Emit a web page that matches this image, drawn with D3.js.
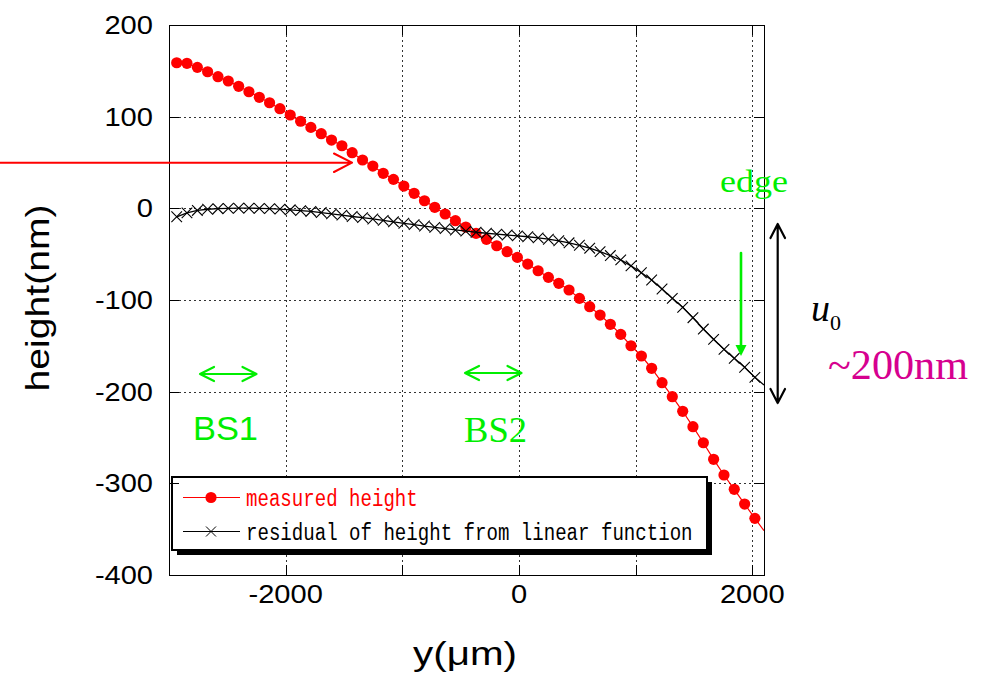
<!DOCTYPE html>
<html>
<head>
<meta charset="utf-8">
<script src="https://cdn.jsdelivr.net/npm/d3@7"></script>
<style>
  html, body { margin: 0; padding: 0; background: #fff; }
  svg { display: block; }
</style>
</head>
<body>
<svg id="chart" width="988" height="676"></svg>
<script>
// Position along the sample, y (µm)
const yPos = [
  -2934, -2846, -2757, -2669, -2580, -2492, -2403, -2315, -2226, -2138,
  -2049, -1961, -1872, -1784, -1695, -1607, -1518, -1430, -1341, -1253,
  -1164, -1076, -987, -899, -810, -722, -633, -545, -456, -368,
  -279, -191, -102, -14, 75, 164, 252, 341, 429, 518,
  606, 695, 783, 872, 960, 1049, 1137, 1226, 1314, 1403,
  1491, 1580, 1668, 1757, 1845, 1934, 2022
];

// Measured height (nm)
const measuredHeight = [
  158.8, 158.2, 153.8, 149.0, 143.6, 138.9, 133.1, 127.2, 121.1, 115.2,
  108.7, 101.8, 95.0, 88.3, 81.4, 74.5, 68.3, 60.7, 52.7, 46.1,
  38.2, 31.6, 24.3, 16.4, 8.3, 1.1, -6.2, -13.5, -20.4, -27.3,
  -33.8, -40.8, -47.3, -53.5, -60.8, -68.1, -75.3, -81.8, -89.1, -98.2,
  -107.3, -116.4, -126.5, -137.5, -149.9, -161.1, -174.5, -190.2, -205.5, -221.4,
  -238.2, -255.7, -273.8, -290.9, -306.5, -322.6, -338.2
];

// Residual of height from a linear function (nm)
const residualHeight = [
  -9.2, -5.0, -2.3, -1.0, -0.4, 0.0, 0.2, 0.2, 0.0, -0.3,
  -0.9, -1.6, -2.5, -3.4, -4.6, -6.0, -7.4, -8.9, -10.2, -11.6,
  -13.2, -14.7, -16.3, -17.8, -19.3, -20.8, -22.2, -23.6, -24.9, -26.1,
  -27.2, -28.2, -29.1, -30.0, -31.0, -32.2, -33.7, -35.4, -37.6, -40.3,
  -43.5, -47.2, -51.5, -56.2, -62.8, -70.3, -78.2, -88.0, -98.2, -108.0,
  -119.3, -131.7, -142.9, -153.8, -163.6, -173.4, -184.4
];

// Where both curves run out at the right-hand edge of the plot
const edgeY = 2100;
const measuredAtEdge = -351.7;
const residualAtEdge = -192.8;

const xTicks = [-2000, -1000, 0, 1000, 2000];
const xTickLabels = ["-2000", "", "0", "", "2000"];
const yTicks = [-400, -300, -200, -100, 0, 100, 200];
const yTickLabels = ["-400", "-300", "-200", "-100", "0", "100", "200"];

const legendLabels = ["measured height", "residual of height from linear function"];

const svg = d3.select("#chart");
const SANS = "'Liberation Sans', Arial, Helvetica, sans-serif";
const SERIF = "'Liberation Serif', 'Times New Roman', serif";
const MONO = "'Liberation Mono', 'DejaVu Sans Mono', monospace";
const GREEN = "#00ee00";

const x = d3.scaleLinear().domain([-3000, 2100]).range([169, 764]);
const y = d3.scaleLinear().domain([-400, 200]).range([575, 25]);
const [x0, x1] = x.range();
const [y0, y1] = [y(200), y(-400)];

// Text drawn at a fixed width (glyphs stretched to fit)
function fitText(g, str, opts) {
  const t = g.append("text")
    .attr("x", opts.x).attr("y", opts.y)
    .attr("font-family", opts.family)
    .attr("font-size", opts.size)
    .attr("fill", opts.fill || "#000")
    .attr("text-anchor", opts.anchor || "start")
    .text(str);
  if (opts.style) t.attr("font-style", opts.style);
  if (opts.width) t.attr("textLength", opts.width).attr("lengthAdjust", "spacingAndGlyphs");
  if (opts.transform) t.attr("transform", opts.transform);
  return t;
}

// ---- grid ----
const grid = svg.append("g").attr("stroke", "#333").attr("stroke-width", 1)
  .attr("stroke-dasharray", "2,3").attr("fill", "none");
grid.selectAll("line.v").data(xTicks).join("line").attr("class", "v")
  .attr("x1", d => Math.round(x(d)) + 0.5).attr("x2", d => Math.round(x(d)) + 0.5)
  .attr("y1", y0).attr("y2", y1);
grid.selectAll("line.h").data(yTicks.filter(d => d > -400 && d < 200)).join("line").attr("class", "h")
  .attr("y1", d => Math.round(y(d)) + 0.5).attr("y2", d => Math.round(y(d)) + 0.5)
  .attr("x1", x0).attr("x2", x1);

// ---- series ----
const measuredPts = yPos.map((p, i) => [p, measuredHeight[i]]);
const residualPts = yPos.map((p, i) => [p, residualHeight[i]]);
const line = d3.line().x(d => x(d[0])).y(d => y(d[1]));

svg.append("path")
  .attr("d", line(measuredPts.concat([[edgeY, measuredAtEdge]])))
  .attr("fill", "none").attr("stroke", "#ff0000").attr("stroke-width", 1.2);
svg.append("g").selectAll("circle").data(measuredPts).join("circle")
  .attr("cx", d => x(d[0])).attr("cy", d => y(d[1])).attr("r", 5.6)
  .attr("fill", "#ff0000");

svg.append("path")
  .attr("d", line(residualPts.concat([[edgeY, residualAtEdge]])))
  .attr("fill", "none").attr("stroke", "#000").attr("stroke-width", 1.3);
const cs = 5.3;
svg.append("g").attr("stroke", "#000").attr("stroke-width", 1.1)
  .selectAll("path").data(residualPts).join("path")
  .attr("d", d => {
    const cx = x(d[0]), cy = y(d[1]);
    return `M${cx - cs},${cy - cs}L${cx + cs},${cy + cs}M${cx - cs},${cy + cs}L${cx + cs},${cy - cs}`;
  });

// ---- legend ----
const leg = svg.append("g");
const lx = 172, ly = 477, lw = 535, lh = 73;
leg.append("rect").attr("x", lx + 5).attr("y", ly + 5).attr("width", lw).attr("height", lh).attr("fill", "#000");
leg.append("rect").attr("x", lx).attr("y", ly).attr("width", lw).attr("height", lh)
  .attr("fill", "#fff").attr("stroke", "#000").attr("stroke-width", 2);
const rowY = [497.5, 531.5];
const legColors = ["#ff0000", "#000"];
legendLabels.forEach((lab, i) => {
  leg.append("line").attr("x1", 183).attr("x2", 240).attr("y1", rowY[i]).attr("y2", rowY[i])
    .attr("stroke", legColors[i]).attr("stroke-width", 1);
  if (i === 0) {
    leg.append("circle").attr("cx", 211).attr("cy", rowY[i]).attr("r", 5.6).attr("fill", "#ff0000");
  } else {
    leg.append("path").attr("stroke", "#000").attr("stroke-width", 1)
      .attr("d", `M206,${rowY[i] - 5}L216,${rowY[i] + 5}M206,${rowY[i] + 5}L216,${rowY[i] - 5}`);
  }
  fitText(leg, lab, { x: 246, y: rowY[i] + 8, size: 23, family: MONO, fill: legColors[i],
    width: lab.length * 11.45 });
});

// ---- frame and ticks (mirrored, pointing inward) ----
svg.append("rect").attr("x", x0 + 0.5).attr("y", y0 + 0.5)
  .attr("width", x1 - x0).attr("height", y1 - y0)
  .attr("fill", "none").attr("stroke", "#000").attr("stroke-width", 1);
const ticks = svg.append("g").attr("stroke", "#000").attr("stroke-width", 1);
const tl = 10;
xTicks.forEach(t => {
  const px = Math.round(x(t)) + 0.5;
  ticks.append("line").attr("x1", px).attr("x2", px).attr("y1", y1).attr("y2", y1 - tl);
  ticks.append("line").attr("x1", px).attr("x2", px).attr("y1", y0).attr("y2", y0 + tl);
});
yTicks.forEach(t => {
  const py = Math.round(y(t)) + 0.5;
  ticks.append("line").attr("y1", py).attr("y2", py).attr("x1", x0).attr("x2", x0 + tl);
  ticks.append("line").attr("y1", py).attr("y2", py).attr("x1", x1).attr("x2", x1 - tl);
});

// ---- tick labels ----
const labels = svg.append("g");
yTicks.forEach((t, i) => {
  const s = yTickLabels[i];
  fitText(labels, s, { x: 153, y: y(t) + 9, size: 25, family: SANS, anchor: "end",
    width: s.replace("-", "").length * 16.2 + (s.startsWith("-") ? 9.5 : 0) });
});
xTicks.forEach((t, i) => {
  const s = xTickLabels[i];
  if (!s) return;
  fitText(labels, s, { x: x(t), y: 603, size: 25, family: SANS, anchor: "middle",
    width: s.replace("-", "").length * 16.2 + (s.startsWith("-") ? 9.5 : 0) });
});

// ---- axis titles ----
fitText(svg, "y(\u03bcm)", { x: 465, y: 665, size: 33, family: SANS, anchor: "middle", width: 104 });
fitText(svg, "height(nm)", { x: 0, y: 0, size: 33, family: SANS, anchor: "middle", width: 187,
  transform: "translate(49,298) rotate(-90)" });

// ---- annotations ----
const ann = svg.append("g").attr("fill", "none").attr("stroke-linecap", "round").attr("stroke-linejoin", "round");

// red pointer from the left margin
ann.append("path").attr("stroke", "#ff0000").attr("stroke-width", 2)
  .attr("d", "M0,162.7L352,162.7M334,153.5L352,162.7L334,172");

// baseline-section double arrows
function dblArrowH(xa, xb, yy, color) {
  ann.append("path").attr("stroke", color).attr("stroke-width", 2.2)
    .attr("d", `M${xa},${yy}L${xb},${yy}M${xa + 14},${yy - 7}L${xa},${yy}L${xa + 14},${yy + 7}` +
      `M${xb - 14},${yy - 7}L${xb},${yy}L${xb - 14},${yy + 7}`);
}
dblArrowH(200, 256.5, 374, GREEN);
dblArrowH(465, 521.5, 373, GREEN);

// edge marker arrow
ann.append("line").attr("x1", 741).attr("x2", 741).attr("y1", 253).attr("y2", 346)
  .attr("stroke", GREEN).attr("stroke-width", 2.6);
svg.append("path").attr("fill", GREEN).attr("d", "M735.5,345L746.5,345L741,356Z");

// u0 double arrow
ann.append("path").attr("stroke", "#000").attr("stroke-width", 2.2)
  .attr("d", "M777.7,224L777.7,403M770.5,238L777.7,224L785,238M770.5,389L777.7,403L785,389");

// annotation texts
fitText(svg, "BS1", { x: 193, y: 440, size: 34, family: SANS, fill: GREEN, width: 65 });
fitText(svg, "BS2", { x: 464, y: 442, size: 36, family: SERIF, fill: GREEN, width: 63 });
fitText(svg, "edge", { x: 720, y: 192, size: 32, family: SERIF, fill: GREEN, width: 68 });
fitText(svg, "u", { x: 811, y: 320.5, size: 37, family: SERIF, style: "italic", width: 19 });
fitText(svg, "0", { x: 830, y: 330, size: 21, family: SERIF, width: 11 });
fitText(svg, "~200nm", { x: 828, y: 379, size: 42, family: SERIF, fill: "#d6008f", width: 140 });
</script>
</body>
</html>
